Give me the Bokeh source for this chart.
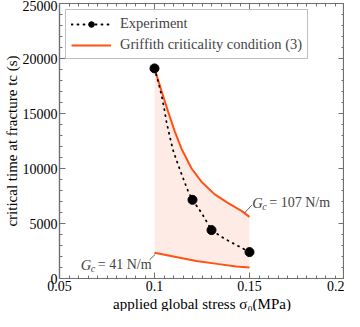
from bokeh.plotting import figure
from bokeh.models import (Range1d, LinearAxis, Label, Legend, LegendItem, Title,
                          SingleIntervalTicker, NumeralTickFormatter,
                          CustomLabelingPolicy)
from bokeh.embed import file_html
from bokeh.resources import INLINE

# ---------------- data ----------------
sigma_exp = [0.10, 0.12, 0.13, 0.15]
t_exp = [19100, 7150, 4400, 2400]

# dotted trend through the experiment
trend_sigma = [0.100, 0.102, 0.1037, 0.1051, 0.1063, 0.1081, 0.1098, 0.1125,
               0.1151, 0.1174, 0.120, 0.125, 0.130, 0.137, 0.143, 0.150]
trend_t = [19100, 17850, 16650, 15450, 14250, 12850, 11650, 10300,
           9100, 8050, 7150, 5900, 4400, 3600, 3050, 2400]

# Griffith criticality condition, Gc = 107 N/m (upper) and 41 N/m (lower)
upper_sigma = [0.100, 0.1037, 0.1072, 0.1107, 0.1142, 0.1195, 0.1247,
               0.1317, 0.1388, 0.1458, 0.150]
upper_t = [19100, 17050, 15150, 13350, 11800, 10000, 8800,
           7650, 6850, 6150, 5600]
lower_sigma = [0.100, 0.112, 0.122, 0.133, 0.143, 0.150]
lower_t = [2350, 1930, 1600, 1330, 1090, 1000]

gc_labels = ["= 107 N/m", "= 41 N/m"]
legend_labels = ["Experiment", "Griffith criticality condition (3)"]
x_label = "applied global stress \u03c3\u2080(MPa)"
y_label = "critical time at fracture tc (s)"

# ---------------- styling ----------------
FONT = "Liberation Serif"
ORANGE = "#ff5214"
FILL = "#ffebe5"
AXIS_COL = "#707070"

p = figure(width=344, height=311, output_backend="svg", toolbar_location=None,
           x_range=Range1d(0.05, 0.2), y_range=Range1d(0, 25000),
           min_border_left=58, min_border_right=0, min_border_top=3,
           min_border_bottom=0, background_fill_color="white")
p.xgrid.visible = False
p.ygrid.visible = False
p.outline_line_color = AXIS_COL
p.outline_line_width = 1.2


def style_axis(ax, xdir, show_labels=True):
    ax.ticker = (SingleIntervalTicker(interval=0.05, num_minor_ticks=10) if xdir
                 else SingleIntervalTicker(interval=5000, num_minor_ticks=5))
    ax.axis_line_color = AXIS_COL
    ax.axis_line_width = 1.2
    ax.major_tick_in = 6
    ax.major_tick_out = 0
    ax.minor_tick_in = 3
    ax.minor_tick_out = 0
    ax.major_tick_line_color = AXIS_COL
    ax.minor_tick_line_color = AXIS_COL
    ax.major_label_text_font = FONT
    ax.major_label_text_color = "black"
    ax.axis_label_text_font = FONT
    ax.axis_label_text_font_style = "normal"
    ax.axis_label_text_color = "black"
    if show_labels:
        ax.major_label_text_font_size = "14px"
        ax.axis_label_text_font_size = "15px"
        ax.major_label_standoff = 2
        ax.axis_label_standoff = 0
    else:
        ax.major_label_text_font_size = "0px"
        ax.major_label_standoff = 0
        ax.major_label_policy = CustomLabelingPolicy(code="return []")


style_axis(p.xaxis[0], True)
style_axis(p.yaxis[0], False)
p.xaxis[0].formatter = NumeralTickFormatter(format="0.[00]")
p.yaxis[0].axis_label = y_label

ax_top = LinearAxis()
style_axis(ax_top, True, show_labels=False)
p.add_layout(ax_top, "above")
ax_right = LinearAxis()
style_axis(ax_right, False, show_labels=False)
p.add_layout(ax_right, "right")

# x-axis title, set just under the tick labels
p.add_layout(Title(text=x_label, align="center", text_font=FONT,
                   text_font_size="15px", text_font_style="normal",
                   text_color="black", standoff=0, offset=0), "below")

# shaded band between the two Griffith curves
band_x = upper_sigma + lower_sigma[::-1]
band_y = upper_t + lower_t[::-1]
p.patch(band_x, band_y, fill_color=FILL, line_color=None)

r_up = p.line(upper_sigma, upper_t, line_color=ORANGE, line_width=2)
p.line(lower_sigma, lower_t, line_color=ORANGE, line_width=2)

r_trend = p.line(trend_sigma, trend_t, line_color="black", line_width=1.8,
                 line_dash="1 5", line_cap="round")
r_pts = p.scatter(sigma_exp, t_exp, size=9, fill_color="black", line_color="black")

# annotation leaders
p.segment(x0=[0.1472, 0.0974], y0=[5915, 1694], x1=[0.1512, 0.1004], y1=[6676, 2201],
          line_color="#606060", line_width=1)

# G_c labels
for lx, ly, txt in [(0.1515, 6880, gc_labels[0]), (0.0612, 1240, gc_labels[1])]:
    p.add_layout(Label(x=lx, y=ly, text="G", text_font=FONT, text_font_style="italic",
                       text_font_size="14.5px", text_baseline="middle"))
    p.add_layout(Label(x=lx, y=ly, x_offset=10, y_offset=-4, text="c", text_font=FONT,
                       text_font_style="italic", text_font_size="10px",
                       text_baseline="middle"))
    p.add_layout(Label(x=lx, y=ly, x_offset=17, text=txt, text_font=FONT,
                       text_font_size="14px", text_baseline="middle"))

legend = Legend(items=[LegendItem(label=legend_labels[0], renderers=[r_trend, r_pts]),
                       LegendItem(label=legend_labels[1], renderers=[r_up])],
                location="top_left", margin=6, padding=5, spacing=4,
                label_text_font=FONT, label_text_font_size="14.5px",
                label_height=14, glyph_height=14, glyph_width=40, label_standoff=9,
                border_line_color="#808080", border_line_width=1.5,
                background_fill_color="white", background_fill_alpha=1)
p.add_layout(legend)

open("out.html", "w").write(file_html(p, INLINE))
